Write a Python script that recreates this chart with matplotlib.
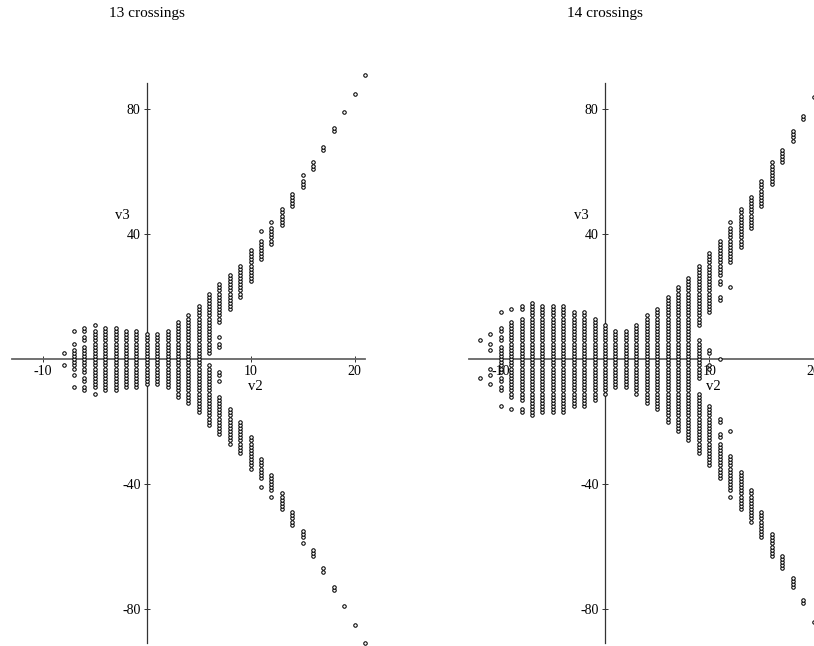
import numpy as np
import matplotlib
matplotlib.use("Agg")
import matplotlib.pyplot as plt

plt.rcParams['font.family'] = ['Liberation Serif', 'DejaVu Serif']

# (v2, v3) invariants, one column per v2 value, v3 given as runs (lo, hi) of integers
v2_13 = [-8, -7, -6, -5, -4, -3, -2, -1, 0, 1, 2, 3, 4, 5, 6, 7,
         8, 9, 10, 11, 12, 13, 14, 15, 16, 17, 18, 19, 20, 21]
v3_13 = [
    [(-2, -2), (2, 2)],
    [(-9, -9), (-5, -5), (-3, 3), (5, 5), (9, 9)],
    [(-10, -9), (-7, -6), (-4, 4), (6, 7), (9, 10)],
    [(-11, -11), (-9, 9), (11, 11)],
    [(-10, 10)],
    [(-10, 10)],
    [(-9, 9)],
    [(-9, 9)],
    [(-8, 8)],
    [(-8, 8)],
    [(-9, 9)],
    [(-12, 12)],
    [(-14, 14)],
    [(-17, 17)],
    [(-21, -2), (2, 21)],
    [(-24, -12), (-7, -7), (-5, -4), (4, 5), (7, 7), (12, 24)],
    [(-27, -16), (16, 27)],
    [(-30, -20), (20, 30)],
    [(-35, -25), (25, 35)],
    [(-41, -41), (-38, -32), (32, 38), (41, 41)],
    [(-44, -44), (-42, -37), (37, 42), (44, 44)],
    [(-48, -43), (43, 48)],
    [(-53, -49), (49, 53)],
    [(-59, -59), (-57, -55), (55, 57), (59, 59)],
    [(-63, -61), (61, 63)],
    [(-68, -67), (67, 68)],
    [(-74, -73), (73, 74)],
    [(-79, -79), (79, 79)],
    [(-85, -85), (85, 85)],
    [(-91, -91), (91, 91)],
]

v2_14 = [-12, -11, -10, -9, -8, -7, -6, -5, -4, -3, -2, -1, 0, 1, 2, 3, 4,
         5, 6, 7, 8, 9, 10, 11, 12, 13, 14, 15, 16, 17, 18, 19, 20]
v3_14 = [
    [(-6, -6), (6, 6)],
    [(-8, -8), (-5, -5), (-3, -3), (3, 3), (5, 5), (8, 8)],
    [(-15, -15), (-10, -9), (-7, -6), (-4, 4), (6, 7), (9, 10), (15, 15)],
    [(-16, -16), (-12, 12), (16, 16)],
    [(-17, -16), (-13, 13), (16, 17)],
    [(-18, 18)],
    [(-17, 17)],
    [(-17, 17)],
    [(-17, 17)],
    [(-15, 15)],
    [(-15, 15)],
    [(-13, 13)],
    [(-11, 11)],
    [(-9, 9)],
    [(-9, 9)],
    [(-11, 11)],
    [(-14, 14)],
    [(-16, 16)],
    [(-20, 20)],
    [(-23, 23)],
    [(-26, 26)],
    [(-30, -11), (-6, 6), (11, 30)],
    [(-34, -15), (-3, -2), (2, 3), (15, 34)],
    [(-38, -27), (-25, -24), (-20, -19), (0, 0), (19, 20), (24, 25), (27, 38)],
    [(-44, -44), (-42, -31), (-23, -23), (23, 23), (31, 42), (44, 44)],
    [(-48, -36), (36, 48)],
    [(-52, -42), (42, 52)],
    [(-57, -49), (49, 57)],
    [(-63, -56), (56, 63)],
    [(-67, -63), (63, 67)],
    [(-73, -70), (70, 73)],
    [(-78, -77), (77, 78)],
    [(-84, -84), (84, 84)],
]

titles = ["13 crossings", "14 crossings"]
xticks = [-10, 10, 20]
yticks = [-80, -40, 40, 80]


def expand(v2s, runs):
    xs, ys = [], []
    for v2, segs in zip(v2s, runs):
        for lo, hi in segs:
            vals = np.arange(lo, hi + 1)
            xs.extend([v2] * len(vals))
            ys.extend(vals)
    return np.array(xs), np.array(ys)


fig = plt.figure(figsize=(8.14, 6.46), dpi=100)

W, H = 814.0, 646.0
panels = [
    # px of x=-13, px per unit x, px of x=0
    (v2_13, v3_13, 11.7, 10.39, 146.6),
    (v2_14, v3_14, 469.4, 10.43, 605.0),
]
ylo, yhi = -91.0, 88.3
ypx = 3.123
y0 = 359.2

for i, (v2s, runs, xl, xs, xc) in enumerate(panels):
    w = 34 * xs
    bottom = H - (y0 + (-ylo) * ypx)
    h = (yhi - ylo) * ypx
    ax = fig.add_axes([xl / W, bottom / H, w / W, h / H])
    ax.set_xlim(-13, 21)
    ax.set_ylim(ylo, yhi)
    for s in ['top', 'right']:
        ax.spines[s].set_visible(False)
    ax.spines['left'].set_position(('data', 0))
    ax.spines['bottom'].set_position(('data', 0))
    ax.spines['left'].set_color('#333333')
    ax.spines['bottom'].set_color('#666666')
    ax.spines['left'].set_linewidth(0.9)
    ax.spines['bottom'].set_linewidth(1.3)
    ax.patch.set_visible(False)

    ax.set_xticks(xticks)
    ax.set_xticklabels([str(t) for t in xticks])
    ax.set_yticks(yticks)
    ax.set_yticklabels([str(t) for t in yticks])
    ax.tick_params(direction='inout', length=5, width=0.7, colors='#333333',
                   labelsize=10, pad=2, labelcolor='black')

    x, y = expand(v2s, runs)
    ax.plot(x, y, 'o', ms=2.5, mew=0.75, mfc='white', mec='black',
            clip_on=False, zorder=3)

    ax.text(10.4, -8.6, "v2", fontsize=10.5, ha='center', va='center')
    ax.text(-2.3, 45.9, "v3", fontsize=10.5, ha='center', va='center')

    fig.text(xc / W, 1 - 13 / H, titles[i], ha='center', va='center', fontsize=11)

fig.savefig("out.png", dpi=100)
